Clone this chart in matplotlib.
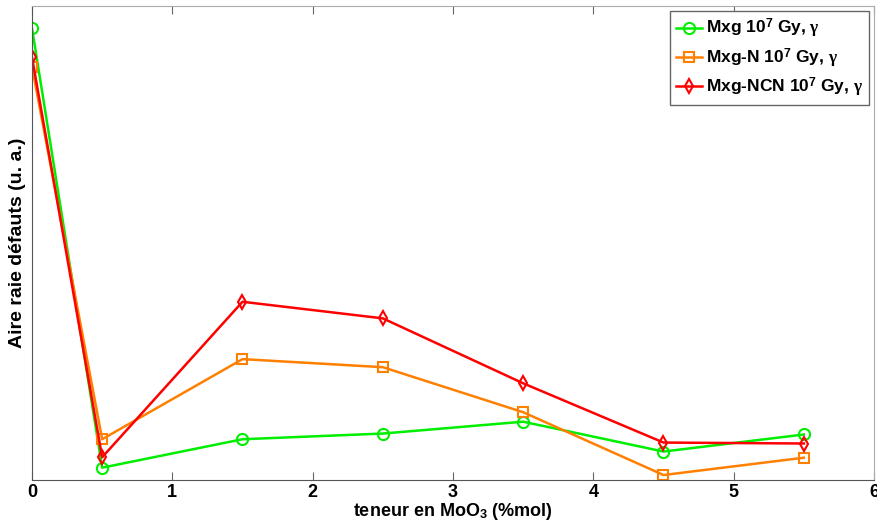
import matplotlib
matplotlib.use("Agg")
import matplotlib.pyplot as plt

x = [0, 0.5, 1.5, 2.5, 3.5, 4.5, 5.5]
mxg = [95.3, 2.6, 8.6, 9.8, 12.3, 6.0, 9.6]
mxg_n = [87.2, 8.6, 25.5, 23.8, 14.3, 1.05, 4.7]
mxg_ncn = [89.2, 4.8, 37.6, 34.1, 20.4, 7.9, 7.7]
xticks = [0, 1, 2, 3, 4, 5, 6]
labels = [r'Mxg 10$^{\mathbf{7}}$ Gy, $\gamma$',
          r'Mxg-N 10$^{\mathbf{7}}$ Gy, $\gamma$',
          r'Mxg-NCN 10$^{\mathbf{7}}$ Gy, $\gamma$']

plt.rcParams['font.family'] = ['Liberation Sans', 'DejaVu Sans']
plt.rcParams['font.weight'] = 'bold'
plt.rcParams['mathtext.fontset'] = 'custom'
plt.rcParams['mathtext.rm'] = 'Liberation Sans:bold'
plt.rcParams['mathtext.it'] = 'Liberation Serif'
plt.rcParams['mathtext.bf'] = 'Liberation Sans:bold'

fig = plt.figure(figsize=(8.77, 5.26), dpi=100)
ax = fig.add_axes([32/877, 46/526, 842/877, 474/526])

ax.plot(x, mxg, color='#00ee00', lw=1.8, marker='o', ms=8, mfc='none', mew=1.5, label=labels[0])
ax.plot(x, mxg_n, color='#ff8000', lw=1.8, marker='s', ms=7, mfc='none', mew=1.5, label=labels[1])
ax.plot(x, mxg_ncn, color='#ff0000', lw=1.8, marker='d', ms=7, mfc='none', mew=1.5, label=labels[2])

ax.set_xlim(0, 6)
ax.set_ylim(0, 100)
ax.set_xticks(xticks)
ax.set_xticklabels([str(t) for t in xticks], fontsize=13, fontweight='bold')
ax.set_yticks([])
ax.tick_params(axis='x', direction='in', length=6, top=True, color='#666666', pad=3)
for s in ['left', 'bottom']:
    ax.spines[s].set_color('#555555')
for s in ['top', 'right']:
    ax.spines[s].set_color('#aaaaaa')

ax.set_xlabel(r'teneur en MoO$_{\mathbf{3}}$ (%mol)', fontsize=13, fontweight='bold', labelpad=0)
ax.set_ylabel('Aire raie défauts (u. a.)', fontsize=14, fontweight='bold', labelpad=4)

leg = ax.legend(loc='upper right', fontsize=12.5, fancybox=False, framealpha=1,
                edgecolor='#666666', handlelength=1.5, handletextpad=0.2,
                borderpad=0.35, labelspacing=0.35, borderaxespad=0.3)
leg.get_frame().set_linewidth(1.0)

fig.savefig('out.png', dpi=100)
